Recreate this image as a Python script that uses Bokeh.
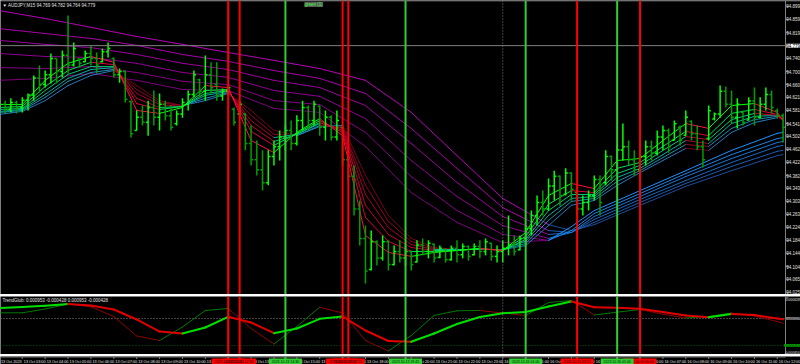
import numpy as np
from bokeh.plotting import figure
from bokeh.layouts import column
from bokeh.models import Range1d, Span, Label, ColumnDataSource
from bokeh.core.properties import value
from bokeh.embed import file_html
from bokeh.resources import INLINE

FONT = "Liberation Sans"

# ---------------- data ----------------
SYMBOL_TITLE = "\u25BC AUDJPY,M15  94.769 94.782 94.764 94.779"
IND_TITLE = "TrendGlob: 0.000953 -0.000428 0.000953 -0.000428"
TOP_TAG = "green (1)"
CURRENT_PRICE = 94.779

BAR_OPEN = [94.590, 94.600, 94.585, 94.605, 94.590, 94.612, 94.628, 94.680, 94.660, 94.690,
            94.740, 94.700, 94.750, 94.720, 94.738, 94.730, 94.755, 94.740, 94.730, 94.760,
            94.740, 94.690, 94.700, 94.608, 94.520, 94.560, 94.545, 94.590, 94.560, 94.600,
            94.565, 94.540, 94.570, 94.600, 94.630, 94.675, 94.640, 94.690, 94.660, 94.625,
            94.640, 94.585, 94.570, 94.570, 94.480, 94.430, 94.400, 94.360, 94.440, 94.470,
            94.500, 94.520, 94.480, 94.550, 94.590, 94.550, 94.594, 94.530, 94.560, 94.500,
            94.530, 94.430, 94.380, 94.280, 94.190, 94.095, 94.180, 94.130, 94.180, 94.110,
            94.150, 94.130, 94.150, 94.118, 94.170, 94.150, 94.172, 94.132, 94.157, 94.125,
            94.160, 94.140, 94.165, 94.140, 94.165, 94.150, 94.175, 94.135, 94.150, 94.160,
            94.170, 94.155, 94.190, 94.220, 94.260, 94.300, 94.280, 94.350, 94.380, 94.325,
            94.390, 94.330, 94.280, 94.300, 94.320, 94.370, 94.360, 94.440, 94.400, 94.460,
            94.470, 94.430, 94.400, 94.440, 94.470, 94.450, 94.500, 94.520, 94.490, 94.530,
            94.505, 94.548, 94.510, 94.470, 94.495, 94.555, 94.570, 94.640, 94.600, 94.560,
            94.575, 94.552, 94.610, 94.560, 94.600, 94.630, 94.580, 94.565]
BAR_HIGH = [94.611, 94.611, 94.618, 94.611, 94.621, 94.633, 94.688, 94.718, 94.703, 94.755,
            94.740, 94.764, 94.871, 94.789, 94.740, 94.764, 94.779, 94.758, 94.770, 94.789,
            94.743, 94.709, 94.703, 94.611, 94.581, 94.596, 94.611, 94.642, 94.633, 94.611,
            94.596, 94.581, 94.618, 94.642, 94.703, 94.679, 94.749, 94.728, 94.728, 94.648,
            94.657, 94.590, 94.611, 94.572, 94.535, 94.489, 94.459, 94.459, 94.489, 94.520,
            94.535, 94.550, 94.566, 94.611, 94.596, 94.611, 94.596, 94.581, 94.566, 94.581,
            94.535, 94.459, 94.413, 94.306, 94.229, 94.214, 94.184, 94.199, 94.184, 94.168,
            94.184, 94.168, 94.153, 94.184, 94.190, 94.184, 94.174, 94.168, 94.159, 94.168,
            94.184, 94.174, 94.168, 94.174, 94.184, 94.190, 94.177, 94.168, 94.184, 94.260,
            94.199, 94.199, 94.229, 94.275, 94.321, 94.336, 94.373, 94.397, 94.382, 94.404,
            94.391, 94.336, 94.321, 94.336, 94.382, 94.382, 94.459, 94.443, 94.474, 94.541,
            94.489, 94.459, 94.459, 94.489, 94.489, 94.520, 94.535, 94.526, 94.550, 94.535,
            94.581, 94.550, 94.535, 94.489, 94.596, 94.575, 94.657, 94.654, 94.642, 94.618,
            94.581, 94.621, 94.651, 94.621, 94.651, 94.642, 94.587, 94.572]
BAR_LOW = [94.575, 94.572, 94.575, 94.572, 94.575, 94.581, 94.611, 94.636, 94.651, 94.663,
           94.663, 94.682, 94.694, 94.715, 94.712, 94.728, 94.718, 94.694, 94.728, 94.743,
           94.682, 94.666, 94.605, 94.498, 94.520, 94.535, 94.504, 94.535, 94.520, 94.550,
           94.520, 94.535, 94.559, 94.581, 94.621, 94.621, 94.611, 94.633, 94.611, 94.611,
           94.627, 94.535, 94.566, 94.459, 94.413, 94.382, 94.336, 94.352, 94.413, 94.428,
           94.459, 94.459, 94.474, 94.520, 94.520, 94.535, 94.504, 94.489, 94.489, 94.489,
           94.413, 94.367, 94.260, 94.168, 94.052, 94.092, 94.107, 94.122, 94.092, 94.107,
           94.116, 94.107, 94.092, 94.116, 94.138, 94.129, 94.116, 94.129, 94.116, 94.122,
           94.116, 94.129, 94.122, 94.138, 94.129, 94.138, 94.122, 94.116, 94.116, 94.138,
           94.138, 94.153, 94.168, 94.199, 94.229, 94.260, 94.275, 94.306, 94.290, 94.321,
           94.306, 94.260, 94.260, 94.275, 94.306, 94.260, 94.352, 94.367, 94.397, 94.428,
           94.413, 94.382, 94.382, 94.413, 94.428, 94.443, 94.459, 94.452, 94.489, 94.474,
           94.504, 94.489, 94.459, 94.407, 94.489, 94.550, 94.559, 94.590, 94.541, 94.526,
           94.535, 94.550, 94.535, 94.556, 94.581, 94.572, 94.556, 94.483]
BAR_CLOSE = [94.600, 94.585, 94.605, 94.590, 94.612, 94.628, 94.680, 94.660, 94.690, 94.740,
             94.700, 94.750, 94.720, 94.770, 94.725, 94.755, 94.740, 94.720, 94.760, 94.770,
             94.690, 94.700, 94.615, 94.510, 94.560, 94.545, 94.590, 94.560, 94.600, 94.565,
             94.530, 94.570, 94.605, 94.630, 94.690, 94.640, 94.690, 94.650, 94.625, 94.640,
             94.650, 94.545, 94.600, 94.480, 94.430, 94.400, 94.360, 94.440, 94.470, 94.500,
             94.520, 94.480, 94.550, 94.590, 94.550, 94.600, 94.530, 94.560, 94.500, 94.550,
             94.430, 94.380, 94.280, 94.190, 94.090, 94.180, 94.130, 94.180, 94.110, 94.150,
             94.130, 94.150, 94.110, 94.170, 94.150, 94.175, 94.130, 94.160, 94.125, 94.160,
             94.140, 94.165, 94.135, 94.165, 94.150, 94.180, 94.135, 94.150, 94.160, 94.170,
             94.150, 94.190, 94.220, 94.260, 94.300, 94.280, 94.350, 94.380, 94.320, 94.390,
             94.340, 94.280, 94.300, 94.320, 94.370, 94.300, 94.440, 94.400, 94.460, 94.470,
             94.430, 94.400, 94.440, 94.470, 94.450, 94.500, 94.520, 94.470, 94.540, 94.490,
             94.560, 94.510, 94.470, 94.430, 94.580, 94.570, 94.640, 94.600, 94.560, 94.600,
             94.545, 94.610, 94.560, 94.600, 94.630, 94.590, 94.565, 94.530]

# slow moving-average group (read at these bar indices)
LONG_IDX = [0, 8, 16, 24, 32, 40, 48, 56, 64, 72, 80, 88, 96, 100, 104, 112, 120, 128, 136, 137]
LONG_1 = [94.886, 94.862, 94.835, 94.807, 94.783, 94.758, 94.734, 94.709, 94.673, 94.575,
          94.443, 94.312, 94.232, 94.214, 94.232, 94.291, 94.349, 94.397, 94.443, 94.446]
LONG_2 = [94.831, 94.816, 94.801, 94.780, 94.752, 94.731, 94.703, 94.679, 94.633, 94.526,
          94.404, 94.284, 94.214, 94.208, 94.239, 94.300, 94.358, 94.410, 94.456, 94.459]
LONG_3 = [94.795, 94.783, 94.773, 94.752, 94.725, 94.706, 94.673, 94.651, 94.596, 94.480,
          94.361, 94.257, 94.202, 94.208, 94.248, 94.309, 94.367, 94.422, 94.471, 94.474]
LONG_4 = [94.755, 94.746, 94.743, 94.725, 94.697, 94.682, 94.642, 94.624, 94.556, 94.428,
          94.318, 94.229, 94.190, 94.208, 94.257, 94.318, 94.379, 94.434, 94.483, 94.486]
LONG_5 = [94.712, 94.709, 94.715, 94.697, 94.670, 94.660, 94.611, 94.599, 94.514, 94.379,
          94.275, 94.202, 94.184, 94.214, 94.266, 94.327, 94.388, 94.446, 94.495, 94.498]
LONG_6 = [94.673, 94.679, 94.694, 94.673, 94.645, 94.642, 94.587, 94.575, 94.471, 94.330,
          94.239, 94.177, 94.184, 94.226, 94.275, 94.336, 94.397, 94.459, 94.511, 94.514]

# fast moving-average group (read every 4 bars)
SHORT_IDX = [0, 4, 8, 12, 16, 20, 24, 28, 32, 36, 40, 44, 48, 52, 56, 60, 64, 68, 72, 76,
             80, 84, 88, 92, 96, 100, 104, 108, 112, 116, 120, 124, 128, 132, 136, 137]
SHORT_1 = [94.599, 94.599, 94.673, 94.725, 94.746, 94.728, 94.581, 94.572, 94.590, 94.657,
           94.651, 94.489, 94.452, 94.514, 94.556, 94.504, 94.199, 94.147, 94.135, 94.147,
           94.153, 94.159, 94.153, 94.208, 94.321, 94.358, 94.342, 94.428, 94.434, 94.489,
           94.541, 94.526, 94.596, 94.602, 94.575, 94.550]
SHORT_2 = [94.590, 94.593, 94.654, 94.703, 94.728, 94.721, 94.602, 94.584, 94.593, 94.642,
           94.645, 94.517, 94.474, 94.511, 94.550, 94.514, 94.254, 94.181, 94.150, 94.150,
           94.153, 94.159, 94.153, 94.196, 94.294, 94.336, 94.330, 94.404, 94.422, 94.471,
           94.517, 94.504, 94.572, 94.584, 94.569, 94.550]
SHORT_3 = [94.584, 94.587, 94.642, 94.691, 94.715, 94.715, 94.618, 94.590, 94.593, 94.633,
           94.642, 94.535, 94.486, 94.508, 94.544, 94.520, 94.291, 94.202, 94.162, 94.153,
           94.153, 94.159, 94.153, 94.187, 94.275, 94.324, 94.324, 94.388, 94.413, 94.459,
           94.501, 94.492, 94.553, 94.572, 94.566, 94.553]
SHORT_4 = [94.578, 94.584, 94.630, 94.679, 94.706, 94.712, 94.633, 94.599, 94.593, 94.627,
           94.639, 94.550, 94.498, 94.508, 94.541, 94.526, 94.324, 94.223, 94.171, 94.156,
           94.156, 94.156, 94.156, 94.181, 94.260, 94.312, 94.318, 94.376, 94.404, 94.446,
           94.489, 94.480, 94.541, 94.563, 94.566, 94.553]
SHORT_5 = [94.575, 94.581, 94.621, 94.670, 94.697, 94.706, 94.645, 94.605, 94.596, 94.618,
           94.636, 94.566, 94.508, 94.504, 94.535, 94.529, 94.352, 94.242, 94.181, 94.159,
           94.156, 94.156, 94.156, 94.174, 94.245, 94.303, 94.312, 94.364, 94.397, 94.437,
           94.477, 94.471, 94.526, 94.553, 94.563, 94.556]
SHORT_6 = [94.569, 94.578, 94.611, 94.657, 94.688, 94.703, 94.657, 94.611, 94.596, 94.611,
           94.633, 94.581, 94.520, 94.504, 94.532, 94.535, 94.382, 94.260, 94.190, 94.162,
           94.156, 94.156, 94.156, 94.168, 94.229, 94.291, 94.306, 94.352, 94.391, 94.428,
           94.465, 94.459, 94.514, 94.544, 94.559, 94.556]

# oscillator (values in millionths), read every 4 bars
IND_IDX = SHORT_IDX
IND_SLOW = [398, 421, 448, 489, 455, 364, 137, -137, -182, -46, 198, 68, -175, -68, 152,
            205, -114, -353, -371, -182, 34, 193, 280, 307, 432, 546, 416, 403, 380, 307,
            228, 187, 262, 239, 159, 140]
IND_FAST = [289, 289, 375, 489, 426, 205, -239, -341, -34, 341, 387, -68, -421, -23, 416,
            284, -341, -580, -228, 228, 335, 341, 284, 228, 523, 569, 239, 303, 364, 257,
            171, 205, 284, 216, 91, 50]
IND_UNIT = 1e-6
IND_LEVEL_HI = 0.000159
IND_LEVEL_LO = -0.000455
IND_TICKS = [0.000628, -0.000650]

RED_LINES = [40, 42, 60, 61, 101, 112]
RED_LABELS = ["2023.10.13 12:00", "2023.10.13 12:30", "2023.10.13 17:00",
              "2023.10.13 17:15", "2023.10.16 03:15", "2023.10.16 06:00"]
GREEN_LINES = [50, 71, 92, 108]
GREEN_LABELS = ["2023.10.13 14:30", "2023.10.13 19:45", "2023.10.16 01:00", "2023.10.16 05:00"]
DAY_SEPARATOR = 88

PRICE_TICKS = [94.899, 94.859, 94.819, 94.740, 94.700, 94.660, 94.621, 94.581, 94.541,
               94.502, 94.462, 94.422, 94.382, 94.343, 94.303, 94.263, 94.224, 94.184,
               94.144, 94.104, 94.065, 94.025]

TIME_TICKS = [0, 4, 8, 12, 16, 20, 24, 28, 32, 36, 40, 44, 48, 52, 56, 60, 64, 68, 72, 76,
              80, 84, 88, 92, 96, 100, 104, 108, 112, 116, 120, 124, 128, 132, 136]
TIME_LABELS = ["13 Oct 2023", "13 Oct 03:00", "13 Oct 04:00", "13 Oct 05:00", "13 Oct 06:00",
               "13 Oct 07:00", "13 Oct 08:00", "13 Oct 09:00", "13 Oct 10:00", "13 Oct 11:00",
               "13 Oct 12:00", "13 Oct 13:00", "13 Oct 14:00", "13 Oct 15:00", "13 Oct 16:00",
               "13 Oct 17:00", "13 Oct 18:00", "13 Oct 19:00", "13 Oct 20:00", "13 Oct 21:00",
               "13 Oct 22:00", "13 Oct 23:00", "16 Oct 00:00", "16 Oct 01:00", "16 Oct 02:00",
               "16 Oct 03:00", "16 Oct 04:00", "16 Oct 05:00", "16 Oct 06:00", "16 Oct 07:00",
               "16 Oct 08:00", "16 Oct 09:00", "16 Oct 10:00", "16 Oct 11:00", "16 Oct 12:00"]

# ---------------- style / layout ----------------
W = 800
CHART_W = 785                 # pixel position of the price axis line
MAIN_H, SEP_H, IND_H, TIME_H = 294, 2, 58, 10
X0, XA = 0.19, 137.43         # bar index at left edge / at the axis line
PX = CHART_W / (XA - X0)      # pixels per bar
XE = X0 + W / PX              # bar index at right edge of the window
PRICE_LO, PRICE_HI = 94.0185, 94.917
IND_LO, IND_HI = -0.00066, 0.00066
PP = (PRICE_HI - PRICE_LO) / MAIN_H
IP = (IND_HI - IND_LO) / IND_H

UP_BAR, DOWN_BAR = "#00ff00", "#00a000"
LONG_DOWN = ["#b800b8", "#a800a8", "#9c009c", "#900090", "#860086", "#7c007c"]
LONG_UP = ["#1f4f9f", "#1d5cb2", "#1b69c4", "#1a76d6", "#1983e8", "#1e90ff"]
SHORT_UP = ["#00ff00", "#00e050", "#00c878", "#00b0a0", "#1890b0", "#2878c0"]
SHORT_DOWN = ["#ff1040", "#e0003a", "#c40032", "#a8002c", "#900026", "#780020"]
GRAY = "#808080"
TEXT_COL = "#e0e0e0"
RED = "#ff0000"
GREEN = "#32cd32"


def make_fig(h, yr, bg="black"):
    f = figure(frame_width=W, frame_height=h, x_range=Range1d(X0, XE), y_range=yr,
               min_border=0, x_axis_location=None, y_axis_location=None,
               background_fill_color=bg, border_fill_color=bg, outline_line_color=None,
               output_backend="svg", toolbar_location=None)
    for g in f.grid:
        g.visible = False
    return f


def seg_data(idx, lines, color_fn):
    d = dict(x0=[], y0=[], x1=[], y1=[], c=[])
    for j, vals in enumerate(lines):
        for k in range(len(idx) - 1):
            d["x0"].append(idx[k]); d["y0"].append(vals[k])
            d["x1"].append(idx[k + 1]); d["y1"].append(vals[k + 1])
            d["c"].append(color_fn(j, k, vals))
    return d


def add_vlines(f, level="annotation"):
    for xv in RED_LINES:
        f.add_layout(Span(location=xv, dimension="height", line_color=RED, line_width=2, level=level))
    for xv in GREEN_LINES:
        f.add_layout(Span(location=xv, dimension="height", line_color=GREEN, line_width=2, level=level))
    f.add_layout(Span(location=DAY_SEPARATOR, dimension="height", line_color=GRAY,
                      line_width=1, line_dash="1 2", level=level))


def add_price_axis(f, lo, hi, ticks, label_pos, labels, size):
    f.segment(x0=[XA], y0=[lo], x1=[XA], y1=[hi], line_color=GRAY, line_width=1)
    f.segment(x0=[XA] * len(ticks), y0=ticks, x1=[XA + 3 / PX] * len(ticks), y1=ticks,
              line_color=GRAY, line_width=1)
    f.text(x=[XE] * len(ticks), y=label_pos, text=labels, x_offset=-0.5,
           text_font=value(FONT), text_font_size=size, text_color=TEXT_COL,
           text_baseline="middle", text_align="right")


# ---------------- main price panel ----------------
p = make_fig(MAIN_H, Range1d(PRICE_LO, PRICE_HI))

long_lines = [LONG_1, LONG_2, LONG_3, LONG_4, LONG_5, LONG_6]
ld = seg_data(LONG_IDX, long_lines,
              lambda j, k, v: LONG_UP[j] if LONG_6[k + 1] > LONG_1[k + 1] else LONG_DOWN[j])
p.segment("x0", "y0", "x1", "y1", color="c", line_width=1, line_cap="round",
          source=ColumnDataSource(ld))

short_lines = [SHORT_1, SHORT_2, SHORT_3, SHORT_4, SHORT_5, SHORT_6]
sd = seg_data(SHORT_IDX, short_lines[::-1],
              lambda j, k, v: (SHORT_UP[5 - j] if v[k + 1] >= v[k] else SHORT_DOWN[5 - j]))
p.segment("x0", "y0", "x1", "y1", color="c", line_width=1, line_cap="round",
          source=ColumnDataSource(sd))

idx = np.arange(len(BAR_CLOSE))
o, h, l, c = (np.array(a) for a in (BAR_OPEN, BAR_HIGH, BAR_LOW, BAR_CLOSE))
bar_colors = [UP_BAR if cc >= oo else DOWN_BAR for oo, cc in zip(o, c)]
bsrc = ColumnDataSource(dict(x=idx, xl=idx - 0.38, xr=idx + 0.38, o=o, h=h, l=l, c=c, col=bar_colors))
p.segment("x", "l", "x", "h", color="col", line_width=1.5, source=bsrc)
p.segment("xl", "o", "x", "o", color="col", line_width=1.5, source=bsrc)
p.segment("x", "c", "xr", "c", color="col", line_width=1.5, source=bsrc)

# current price line and top border
p.segment(x0=[X0], y0=[CURRENT_PRICE], x1=[XA], y1=[CURRENT_PRICE], line_color=GRAY, line_width=1)
p.segment(x0=[X0], y0=[PRICE_HI - 0.5 * PP], x1=[XE], y1=[PRICE_HI - 0.5 * PP],
          line_color="#505050", line_width=1)
add_price_axis(p, PRICE_LO, PRICE_HI, PRICE_TICKS, PRICE_TICKS,
               ["%.3f" % v for v in PRICE_TICKS], "4.5px")
add_vlines(p)

p.add_layout(Label(x=X0 + 2 / PX, y=PRICE_HI - 4.5 * PP, text=SYMBOL_TITLE,
                   text_font=FONT, text_font_size="4.5px", text_color=TEXT_COL,
                   text_baseline="middle"))
p.add_layout(Label(x=X0 + 304 / PX, y=PRICE_HI - 4 * PP, text=TOP_TAG,
                   text_font=FONT, text_font_size="4.5px", text_color="#40ff40",
                   background_fill_color="#5a5a5a", text_baseline="middle"))
p.add_layout(Label(x=XE - 0.5 / PX, y=CURRENT_PRICE, text="%.3f" % CURRENT_PRICE,
                   text_font=FONT, text_font_size="4.5px", text_color="black",
                   background_fill_color="white", text_baseline="middle", text_align="right"))

# ---------------- separator ----------------
sep = make_fig(SEP_H, Range1d(0, 1), bg=GRAY)
add_vlines(sep)

# ---------------- indicator panel ----------------
q = make_fig(IND_H, Range1d(IND_LO, IND_HI))
q.segment(x0=[X0, X0], y0=[IND_LEVEL_HI, IND_LEVEL_LO], x1=[XA, XA], y1=[IND_LEVEL_HI, IND_LEVEL_LO],
          line_color=[GRAY, "#006400"], line_width=1, line_dash="1 2")

slow = [v * IND_UNIT for v in IND_SLOW]
fast = [v * IND_UNIT for v in IND_FAST]
fd = seg_data(IND_IDX, [fast], lambda j, k, v: "#007a00" if v[k + 1] >= v[k] else "#900000")
q.segment("x0", "y0", "x1", "y1", color="c", line_width=1, line_cap="round",
          source=ColumnDataSource(fd))
sd2 = seg_data(IND_IDX, [slow], lambda j, k, v: "#00e000" if v[k + 1] >= v[k] else "#e00000")
q.segment("x0", "y0", "x1", "y1", color="c", line_width=2, line_cap="round",
          source=ColumnDataSource(sd2))
add_price_axis(q, IND_LO, IND_HI, IND_TICKS, [IND_HI - 2.5 * IP, IND_LO + 2.5 * IP],
               ["%.6f" % v for v in IND_TICKS], "3.5px")
add_vlines(q)

q.add_layout(Label(x=X0 + 2 / PX, y=IND_HI - 3.5 * IP, text=IND_TITLE,
                   text_font=FONT, text_font_size="4.5px", text_color=TEXT_COL,
                   text_baseline="middle"))
q.add_layout(Label(x=XE - 0.5 / PX, y=IND_LEVEL_HI, text="%.6f" % IND_LEVEL_HI,
                   text_font=FONT, text_font_size="3.5px", text_color="black",
                   background_fill_color="#909090", text_baseline="middle", text_align="right"))
q.add_layout(Label(x=XE - 0.5 / PX, y=IND_LEVEL_LO, text="%.6f" % IND_LEVEL_LO,
                   text_font=FONT, text_font_size="3.5px", text_color="black",
                   background_fill_color="#00b000", text_baseline="middle", text_align="right"))

# ---------------- time axis strip ----------------
t = make_fig(TIME_H, Range1d(0, TIME_H))
add_vlines(t, level="underlay")
t.segment(x0=[X0], y0=[TIME_H - 0.5], x1=[XA], y1=[TIME_H - 0.5], line_color=GRAY, line_width=1)
t.segment(x0=TIME_TICKS, y0=[TIME_H] * len(TIME_TICKS), x1=TIME_TICKS,
          y1=[TIME_H - 2.5] * len(TIME_TICKS), line_color=GRAY, line_width=1)
t.text(x=TIME_TICKS, y=[TIME_H / 2 - 0.5] * len(TIME_TICKS), text=TIME_LABELS, x_offset=1.5,
       text_font=value(FONT), text_font_size="3.8px", text_color=TEXT_COL,
       text_baseline="middle", text_align="left")
t.rect(x=RED_LINES, y=[TIME_H / 2 - 0.5] * len(RED_LINES), width=33, width_units="screen",
       height=7, fill_color=RED, line_color=None)
t.text(x=RED_LINES, y=[TIME_H / 2 - 0.5] * len(RED_LINES), text=RED_LABELS,
       text_font=value(FONT), text_font_size="3.5px", text_color="#200000",
       text_baseline="middle", text_align="center")
t.rect(x=GREEN_LINES, y=[TIME_H / 2 - 0.5] * len(GREEN_LINES), width=33, width_units="screen",
       height=7, fill_color=GREEN, line_color=None)
t.text(x=GREEN_LINES, y=[TIME_H / 2 - 0.5] * len(GREEN_LINES), text=GREEN_LABELS,
       text_font=value(FONT), text_font_size="3.5px", text_color="#002000",
       text_baseline="middle", text_align="center")

layout = column(p, sep, q, t, spacing=0)
open("out.html", "w").write(file_html(layout, INLINE))
